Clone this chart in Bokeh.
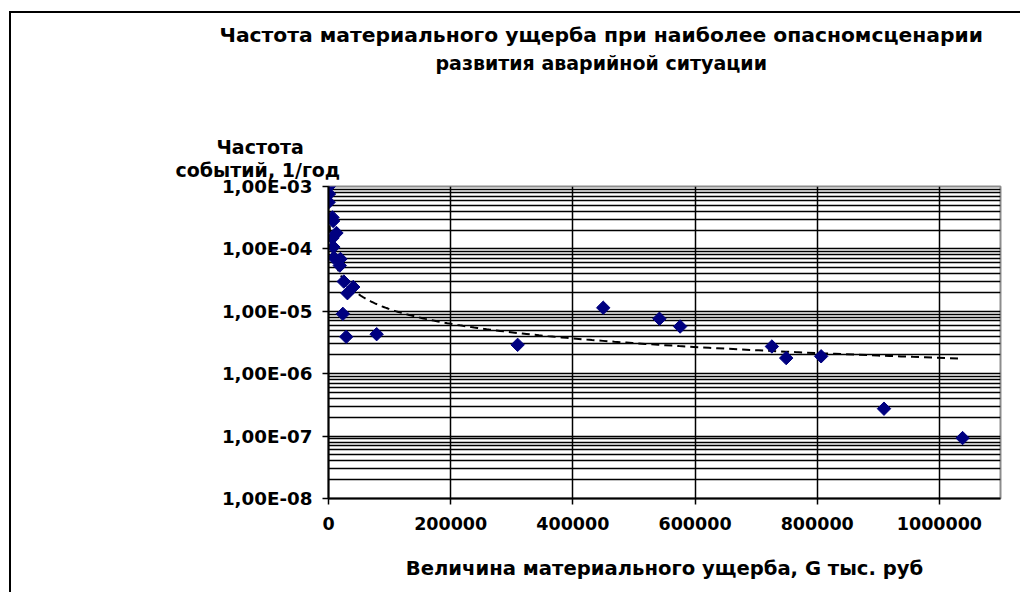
import numpy as np
from bokeh.plotting import figure
from bokeh.models import FixedTicker, CustomJSTickFormatter, Range1d, Title
from bokeh.embed import file_html
from bokeh.resources import INLINE

# ---- data ----
damage = [500, 800, 300, 6500, 7500, 13000, 6500, 8000, 9000, 19500, 18500,
          25000, 40500, 31000, 23500, 29000, 78800, 309600, 449700, 541700,
          575600, 725800, 749200, 806400, 909300, 1037900]
frequency = [1.0e-3, 7.6e-4, 5.6e-4, 3.2e-4, 2.8e-4, 1.8e-4, 1.5e-4, 1.07e-4,
             7.2e-5, 6.9e-5, 5.4e-5, 3.0e-5, 2.45e-5, 1.95e-5, 9.1e-6, 3.9e-6,
             4.3e-6, 2.9e-6, 1.14e-5, 7.6e-6, 5.7e-6, 2.73e-6, 1.78e-6, 1.9e-6,
             2.75e-7, 9.3e-8]
# power trend line (Excel-style) y = a * x^b
trend_a = 10 ** -1.065
trend_b = -0.78

x_ticks = [0, 200000, 400000, 600000, 800000, 1000000]
y_ticks = [1e-8, 1e-7, 1e-6, 1e-5, 1e-4, 1e-3]
y_minor = [m * 10.0 ** k for k in range(-8, -3) for m in range(2, 10)]

title_lines = ["Частота материального ущерба при наиболее опасномсценарии",
               "развития аварийной ситуации"]
y_title_lines = ["Частота", "событий, 1/год"]
x_title = "Величина материального ущерба, G тыс. руб"

FONT = "DejaVu Sans"

p = figure(x_axis_type="linear", y_axis_type="log",
           x_range=Range1d(0, 1100000), y_range=Range1d(1e-8, 1e-3),
           frame_width=672, frame_height=312,
           min_border_left=317, min_border_right=20,
           min_border_top=173, min_border_bottom=94,
           output_backend="svg", toolbar_location=None)
p.title.visible = False
p.background_fill_color = "white"
p.border_fill_color = "white"
p.outline_line_color = "#8c8c8c"
p.outline_line_width = 2
p.styles = {"border-left": "2px solid black", "border-top": "2px solid black",
            "margin-left": "9px", "margin-top": "11px"}

# axes
p.xaxis.ticker = FixedTicker(ticks=x_ticks)
p.xaxis.formatter = CustomJSTickFormatter(code="return tick.toFixed(0);")
p.yaxis.ticker = FixedTicker(ticks=y_ticks, minor_ticks=y_minor)
p.yaxis.formatter = CustomJSTickFormatter(code="""
const e = Math.round(Math.log10(tick));
const s = e < 0 ? '-' : '+';
return '1,00E' + s + String(Math.abs(e)).padStart(2, '0');
""")
for ax in (p.xaxis[0], p.yaxis[0]):
    ax.axis_line_color = "black"
    ax.axis_line_width = 2
    ax.major_tick_line_color = "black"
    ax.major_tick_line_width = 1.5
    ax.major_tick_out = 6
    ax.major_tick_in = 0
    ax.minor_tick_line_color = None
    ax.major_label_text_font = FONT
    ax.major_label_text_font_style = "bold"
    ax.major_label_text_color = "black"
p.xaxis.major_label_text_font_size = "17.5px"
p.yaxis.major_label_text_font_size = "18.3px"
p.yaxis.major_label_standoff = 10
p.xaxis.major_label_standoff = 12
p.xaxis.axis_label = x_title
p.xaxis.axis_label_text_font = FONT
p.xaxis.axis_label_text_font_style = "bold"
p.xaxis.axis_label_text_font_size = "19.6px"
p.xaxis.axis_label_text_color = "black"
p.xaxis.axis_label_standoff = 24

# grids
p.xgrid.grid_line_color = "black"
p.xgrid.grid_line_width = 1.5
p.ygrid.grid_line_color = "black"
p.ygrid.grid_line_width = 1.5
p.ygrid.minor_grid_line_color = "black"
p.ygrid.minor_grid_line_width = 1.5

# trend line
tx = np.geomspace(min(damage), max(damage), 400)
ty = trend_a * tx ** trend_b
p.line(tx, ty, line_color="black", line_width=2, line_dash="8 5")

# points
p.scatter(damage, frequency, marker="square", angle=np.pi / 4, size=9.5,
          fill_color="#000080", line_color="#000080")


def make_title(txt, off, so, fs):
    t = Title(text=txt, align="left", offset=off, text_font=FONT,
              text_font_style="bold", text_font_size=fs, text_color="black")
    try:
        t.standoff = so
        return t, so
    except ValueError:
        t.standoff = 0
        return t, 0


# titles stacked above the frame (nearest first)
t1, s1 = make_title(y_title_lines[1], -153, 12, "19px")
t2, s2 = make_title(y_title_lines[0], -112, -14, "19px")
spacer, _ = make_title(" ", 0, 43 - (s1 - 12) - (s2 + 14), "19px")
t3, _ = make_title(title_lines[1], 107, 0, "19px")
t4, _ = make_title(title_lines[0], -109, 5, "20.3px")
for t in (t1, t2, spacer, t3, t4):
    p.add_layout(t, "above")

open("out.html", "w").write(file_html(p, INLINE))
